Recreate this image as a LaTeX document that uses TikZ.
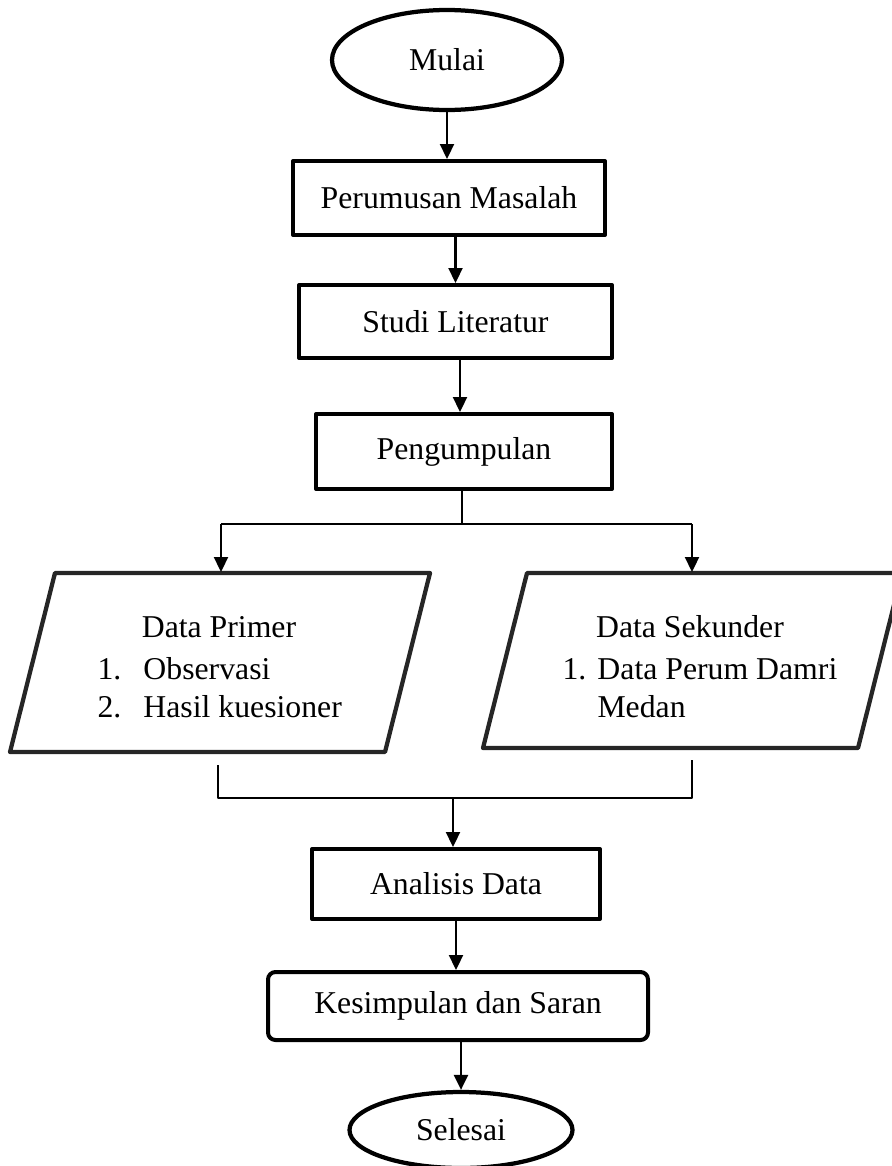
\documentclass[tikz,border=0pt]{standalone}
\usepackage{fontspec}
\setmainfont{Liberation Serif}
\usetikzlibrary{shapes.geometric,arrows.meta,calc}

\begin{document}
\begin{tikzpicture}[x=0.4pt, y=-0.4pt, line join=round,
    every node/.style={font=\fontsize{12.7}{15}\selectfont},
    kotak/.style={draw, line width=1.6pt, rectangle, inner sep=0pt},
    elips/.style={draw, line width=1.7pt, ellipse, inner sep=0pt, minimum width=92pt, minimum height=40pt},
    jajar/.style={draw=black!85, line width=1.7pt},
    teks/.style={inner sep=0pt},
    panah/.style={-{Triangle[length=6pt,width=5.6pt]}, line width=0.9pt},
    garis/.style={line width=0.9pt}]
    \useasboundingbox (0,0) rectangle (892,1166);
    \clip (0,0) rectangle (892,1166);

    % alur atas
    \node[elips] (mulai) at (447,60) {Mulai};
    \node[kotak, minimum width=124.8pt, minimum height=29.6pt] (rumus) at (449,198) {Perumusan Masalah};
    \node[kotak, minimum width=125.2pt, minimum height=29.2pt] (studi) at (455.5,321.5) {Studi Literatur};
    \node[kotak, minimum width=118.4pt, minimum height=30pt] (kumpul) at (464,451.5) {Pengumpulan};

    % data primer dan sekunder (jajaran genjang)
    \draw[jajar] (10,752) -- (55,573) -- (430,573) -- (385,752) -- cycle;
    \draw[jajar] (483,748) -- (527,573) -- (902,573) -- (858,748) -- cycle;
    \coordinate (primer-n) at (221,572);
    \coordinate (primer-s) at (218,752);
    \coordinate (sekunder-n) at (692,572);
    \coordinate (sekunder-s) at (692,748);
    \node[teks, anchor=base] (judulP) at (219,637) {Data Primer};
    \node[teks, anchor=base west] (obs) at (97,679) {\makebox[18.4pt][l]{1.}Observasi};
    \node[teks, anchor=base west] (kues) at (97,717) {\makebox[18.4pt][l]{2.}Hasil kuesioner};
    \node[teks, anchor=base] (judulS) at (690,637) {Data Sekunder};
    \node[teks, anchor=base west] (perum) at (562,679) {\makebox[14pt][l]{1.}Data Perum Damri};
    \node[teks, anchor=base west] (medan) at (597,717) {Medan};

    % alur bawah
    \node[kotak, minimum width=115.2pt, minimum height=28pt] (analisis) at (456,884) {Analisis Data};
    \node[kotak, rounded corners=3pt, minimum width=152pt, minimum height=27.2pt] (simpul) at (458,1006) {Kesimpulan dan Saran};
    \node[elips, minimum width=89.2pt, minimum height=30.4pt] (selesai) at (461,1130) {Selesai};

    % panah
    \draw[panah] (mulai.south) -- (mulai.south |- rumus.north);
    \draw[panah] (rumus.south -| studi.north) -- (studi.north);
    \draw[panah] ($(studi.south)+(4.5,0)$) -- ($(studi.south |- kumpul.north)+(4.5,0)$);

    % percabangan
    \coordinate (cabang) at (462,524);
    \draw[garis] (kumpul.south -| cabang) -- (cabang);
    \draw[garis] (primer-n |- cabang) -- (sekunder-n |- cabang);
    \draw[panah] (primer-n |- cabang) -- (primer-n);
    \draw[panah] (sekunder-n |- cabang) -- (sekunder-n);

    % penggabungan
    \coordinate (gabung) at (453,798);
    \draw[garis] ($(primer-s)+(0,13)$) -- (primer-s |- gabung) -- (sekunder-s |- gabung) -- ($(sekunder-s)+(0,12)$);
    \draw[panah] (gabung) -- (gabung |- analisis.north);

    \draw[panah] (analisis.south) -- (analisis.south |- simpul.north);
    \draw[panah] (selesai.north |- simpul.south) -- (selesai.north);
\end{tikzpicture}
\end{document}
